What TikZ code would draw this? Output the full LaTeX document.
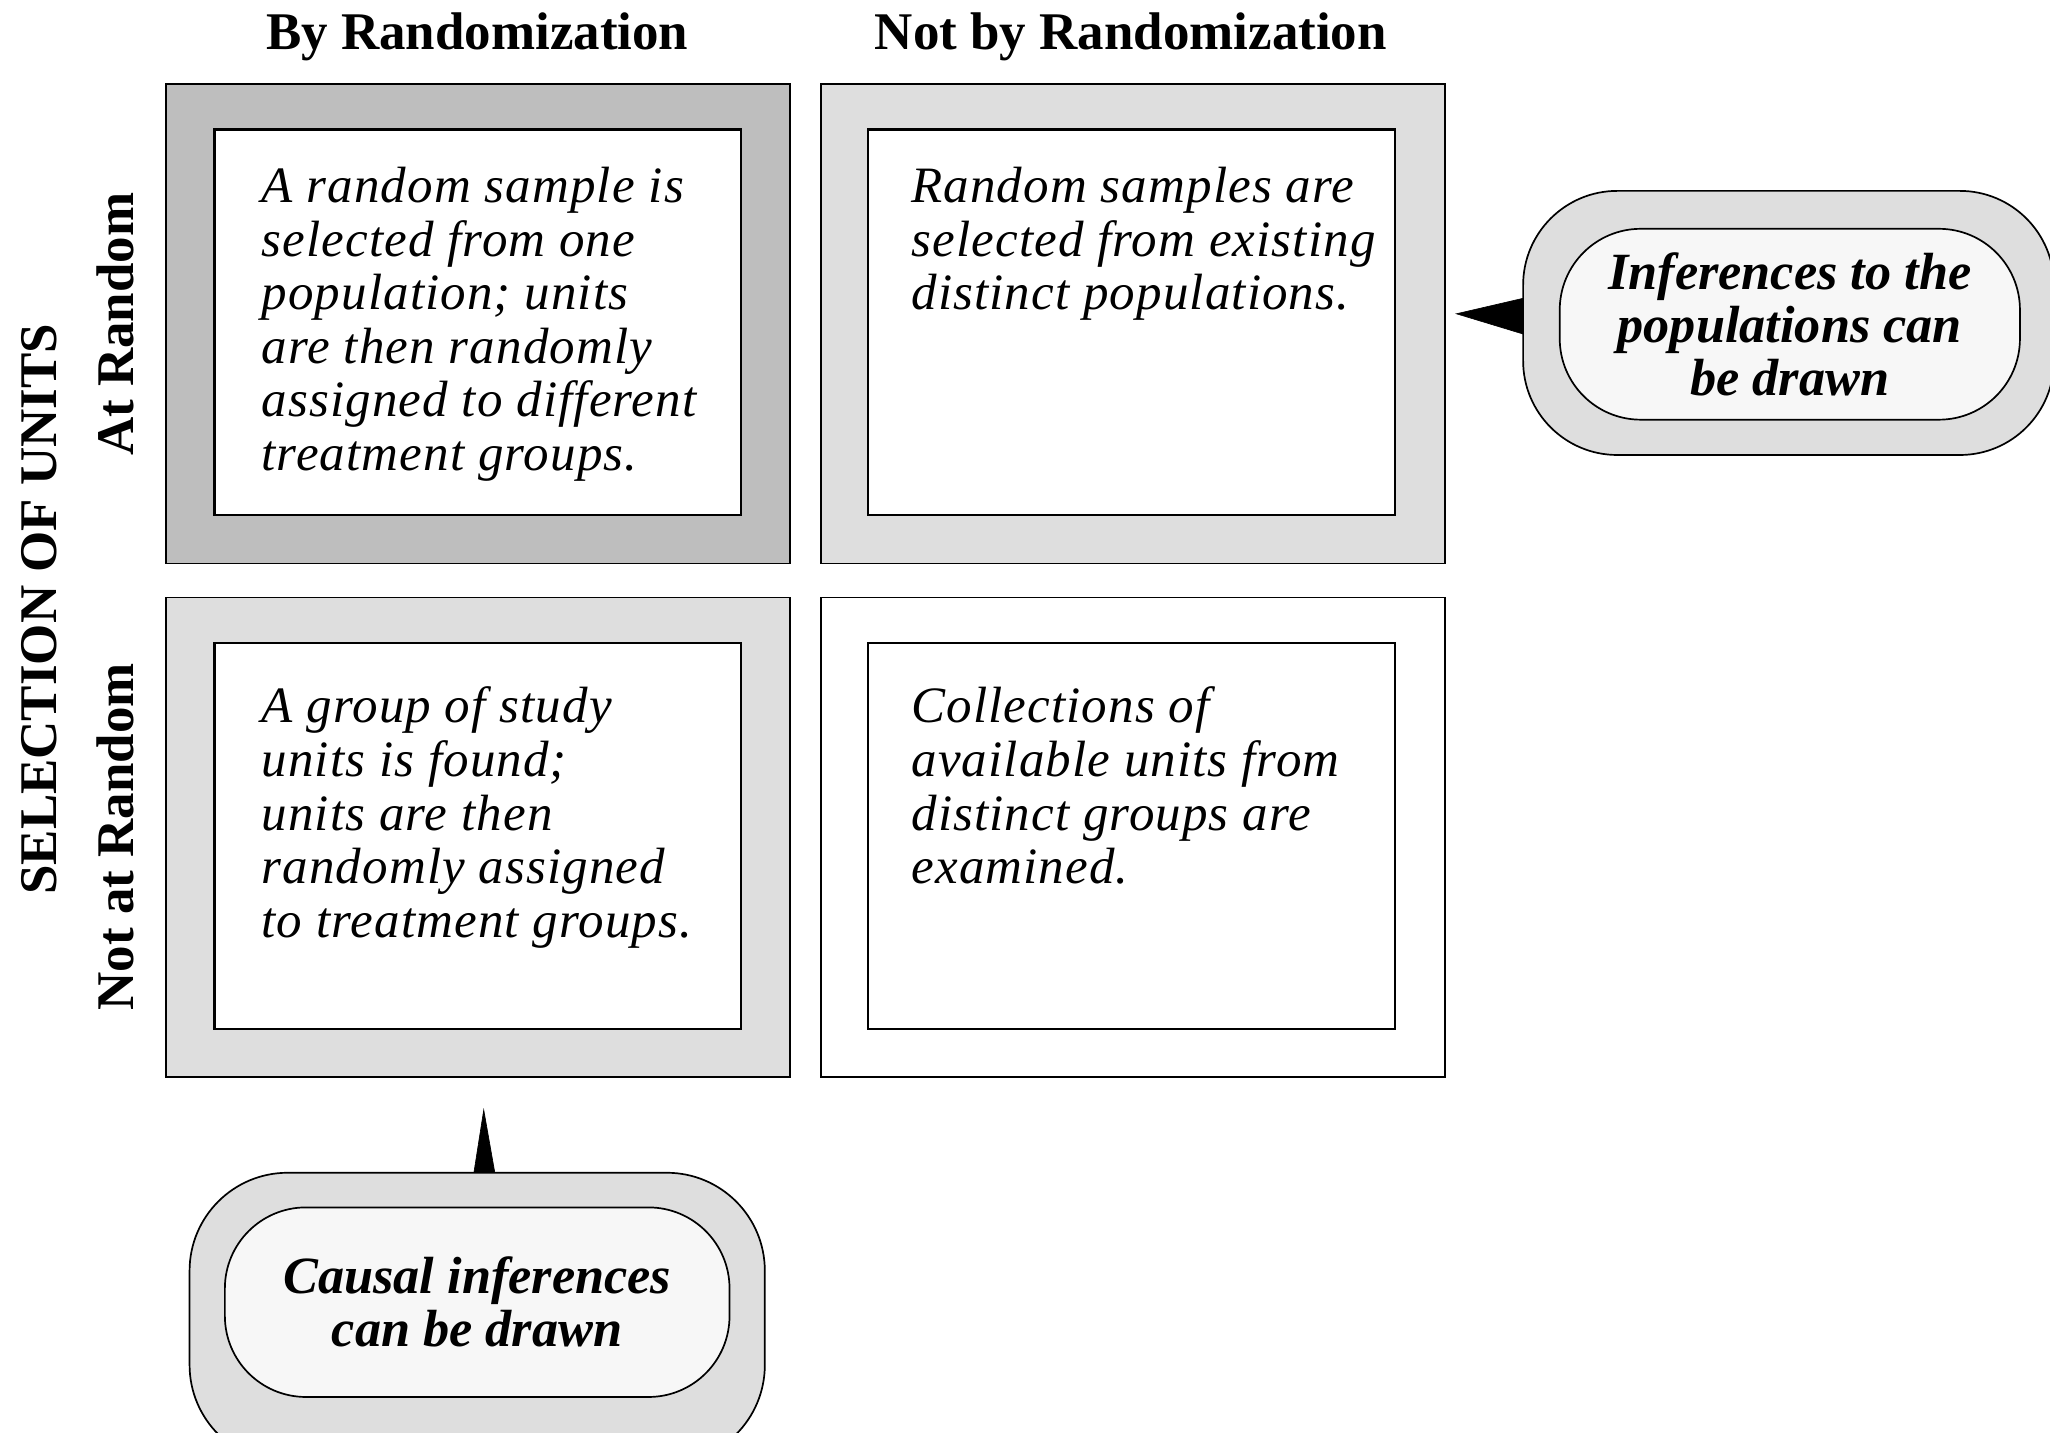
\documentclass[tikz,border=0pt]{standalone}
\usepackage{fontspec}
\setmainfont{Liberation Serif}
\newfontfamily\bodyfont[LetterSpace=2.2]{Liberation Serif}
\begin{document}
\begin{tikzpicture}[x=1pt,y=-1pt,
  outerbox/.style={draw, line width=1.5pt, inner sep=0pt, minimum width=477pt, minimum height=367pt},
  innerbox/.style={draw, fill=white, line width=1.8pt, inner sep=0pt, minimum width=403pt, minimum height=295pt},
  body/.style={anchor=north west, inner sep=0pt, align=left, font=\bodyfont\fontsize{39}{41}\selectfont\itshape},
  head/.style={font=\fontsize{40.5}{44}\selectfont\bfseries, inner sep=0pt},
  callout/.style={draw, line width=1.3pt, fill=calloutgray, inner sep=0pt},
  callin/.style={draw, line width=1.3pt, fill=calloutlight, inner sep=0pt, align=center, font=\fontsize{40}{40.5}\selectfont\bfseries\itshape},
  pointer/.style={fill=black, draw=black, line width=0.5pt}]
\definecolor{darkcell}{RGB}{190,190,190}
\definecolor{lightcell}{RGB}{222,222,222}
\definecolor{calloutgray}{RGB}{222,222,222}
\definecolor{calloutlight}{RGB}{247,247,247}
\useasboundingbox (0,0) rectangle (1568,1096);

% column headers
\node[head] (hby) at (365,28) {By Randomization};
\node[head] (hnot) at (865,28) {Not by Randomization};
% row headers
\node[head, rotate=90] (hsel) at (30,466) {SELECTION OF UNITS};
\node[head, rotate=90] (hat) at (88,248) {At Random};
\node[head, rotate=90] (hnat) at (88,640) {Not at Random};

% cells
\node[outerbox, fill=darkcell] (tlo) at (365.5,247.5) {};
\node[innerbox] (tli) at (365.5,246.5) {};
\node[outerbox, fill=lightcell] (tro) at (866.5,247.5) {};
\node[innerbox] (tri) at (865.5,246.5) {};
\node[outerbox, fill=lightcell] (blo) at (365.5,640.5) {};
\node[innerbox] (bli) at (365.5,639.5) {};
\node[outerbox, fill=white] (bro) at (866.5,640.5) {};
\node[innerbox] (bri) at (865.5,639.5) {};

\node[body] (tlt) at (200,126) {\strut A random sample is\\selected from one\\population; units\\are then randomly\\assigned to different\\treatment groups.};
\node[body] (trt) at (697,126) {\strut Random samples are\\selected from existing\\distinct populations.};
\node[body] (blt) at (200,524) {\strut A group of study\\units is found;\\units are then\\randomly assigned\\to treatment groups.};
\node[body] (brt) at (697,524) {\strut Collections of\\available units from\\distinct groups are\\examined.};

% right callout
\coordinate (rtip) at (1114,240);
\coordinate (rb1) at (1170,227);
\coordinate (rb2) at (1170,257);
\fill[pointer] (rtip) -- (rb1) -- (rb2) -- cycle;
\node[callout, rounded corners=72pt, minimum width=406pt, minimum height=202pt] (rco) at (1368,247) {};
\node[callin, rounded corners=62pt, minimum width=352pt, minimum height=146pt] (rci) at (1369,248) {Inferences to the\\populations can\\be drawn};

% bottom callout
\coordinate (btip) at (370,849);
\coordinate (bb1) at (362,900);
\coordinate (bb2) at (379,900);
\fill[pointer] (btip) -- (bb1) -- (bb2) -- cycle;
\node[callout, rounded corners=75pt, minimum width=440pt, minimum height=222pt] (bco) at (365,1008) {};
\node[callin, rounded corners=62pt, minimum width=386pt, minimum height=145pt] (bci) at (365,996) {Causal inferences\\can be drawn};
\end{tikzpicture}
\end{document}
